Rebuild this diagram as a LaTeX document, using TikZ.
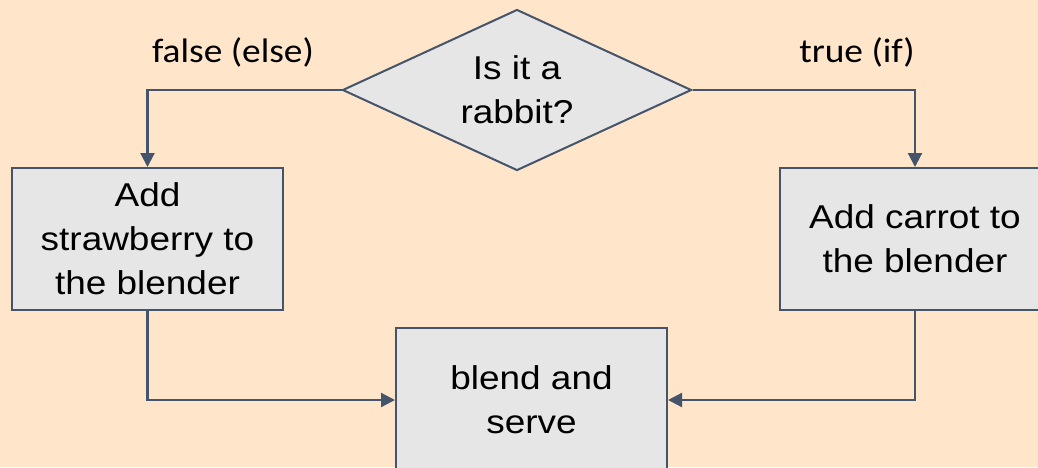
\documentclass[tikz,border=0pt]{standalone}
\usepackage{fontspec}
\setmainfont{Liberation Sans}[FakeStretch=1.12]
\newfontfamily\labelfont{Carlito}[FakeStretch=1.1]
\usepackage{tikz}
\usetikzlibrary{shapes.geometric, arrows.meta, positioning}

\definecolor{peach}{HTML}{FFE6CA}
\definecolor{boxgray}{HTML}{E6E6E6}
\definecolor{slate}{HTML}{44546A}

\tikzset{
    box/.style={draw=slate, line width=2pt, fill=boxgray, align=center,
        font=\fontsize{33}{44}\selectfont, inner sep=0pt},
    decision/.style={box, diamond, aspect=2.17, minimum width=349pt, minimum height=161pt},
    arr/.style={draw=slate, line width=2.2pt, -{Triangle[length=14pt,width=14pt]}},
    lbl/.style={font=\labelfont\fontsize{34}{40}\selectfont}
}

\begin{document}
\begin{tikzpicture}[x=1pt, y=-1pt]
    \useasboundingbox (0,0) rectangle (1038,467);
    \clip (0,0) rectangle (1038,467);
    \fill[peach] (0,0) rectangle (1038,467);

    \node[decision] (Q) at (517,90) {Is it a\\rabbit?};
    \node[box, minimum width=271pt, minimum height=142pt] (Straw) at (147.5,239)
        {Add\\strawberry to\\the blender};
    \node[box, minimum width=270pt, minimum height=142pt] (Carrot) at (915,239)
        {Add carrot to\\the blender};
    \node[box, minimum width=271pt, minimum height=144pt] (Blend) at (531.5,400)
        {blend and\\serve};

    \node[lbl] (F) at (233,52) {false (else)};
    \node[lbl] (T) at (857,52) {true (if)};

    \draw[arr] (Q.west) -| (Straw.north);
    \draw[arr] (Q.east) -| (Carrot.north);
    \draw[arr] (Straw.south) |- (Blend.west);
    \draw[arr] (Carrot.south) |- (Blend.east);
\end{tikzpicture}
\end{document}
